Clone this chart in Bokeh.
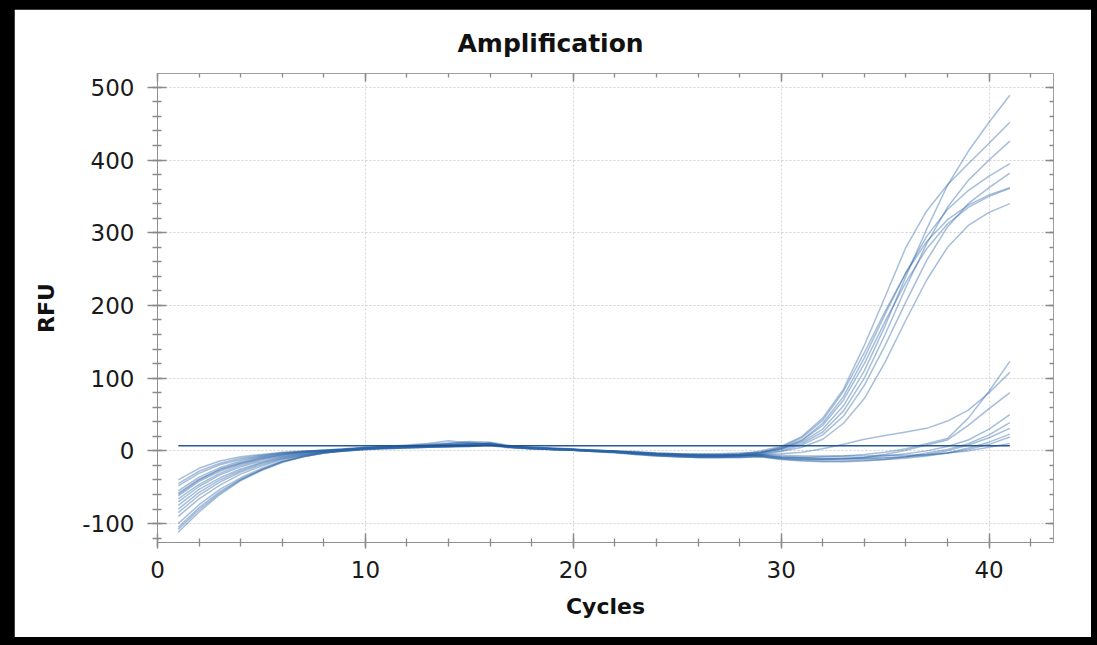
from bokeh.plotting import figure
from bokeh.models import LinearAxis, FixedTicker, GlobalInlineStyleSheet, PrintfTickFormatter
from bokeh.embed import file_html
from bokeh.resources import INLINE

cycles = list(range(1, 42))

h1 = [-66,-46,-31,-20,-12,-7,-3,0,2,5, 5,6,7,8,9,10,6,4,3,2,1,0,-2,-3,-4,-5,-5,-4, -2,3,12,30,62,110,172,240,305,365,412,452,489]
h2 = [-40,-24,-14,-8,-5,-2,0,1,3,4, 6,7,9,11,12,9,6,5,4,2,1,-1,-2,-4,-5,-6,-6,-5, 0,6,20,45,85,145,212,280,330,366,395,423,452]
h3 = [-90,-66,-47,-32,-21,-12,-6,-2,0,3, 4,5,6,6,7,8,5,4,3,2,0,-1,-3,-5,-6,-7,-7,-6, -3,2,10,26,55,100,160,225,285,335,372,400,426]
h4 = [-55,-36,-23,-14,-8,-4,-1,1,2,4, 5,6,8,10,13,12,7,5,4,3,1,0,-3,-4,-5,-6,-7,-6, -2,4,15,38,75,128,188,245,295,332,358,378,395]
h5 = [-105,-78,-56,-39,-26,-15,-8,-3,0,2, 3,4,5,5,6,7,4,3,2,1,0,-2,-4,-6,-7,-8,-8,-7, -4,0,8,22,48,90,145,205,262,308,340,362,382]
h6 = [-62,-42,-28,-18,-11,-6,-2,0,2,4, 6,7,8,9,10,10,6,5,3,2,1,0,-1,-3,-4,-4,-4,-3, -2,5,18,42,82,135,192,245,288,318,338,352,362]
h7 = [-75,-53,-37,-25,-16,-9,-4,-1,1,3, 4,4,5,6,6,9,5,3,2,1,-1,-2,-5,-7,-8,-9,-9,-8, -3,3,14,35,70,120,178,232,278,312,335,350,361]
h8 = [-112,-84,-60,-41,-27,-16,-8,-3,1,3, 4,5,6,7,8,9,5,4,2,1,0,-1,-3,-4,-5,-6,-6,-6, -5,-1,5,16,38,72,122,180,235,280,310,328,340]
l1 = [-48,-31,-19,-12,-7,-3,-1,1,3,5, 6,8,10,14,11,9,6,4,3,2,0,-1,-3,-4,-5,-6,-6,-6, -6,-8,-9,-8,-7,-5,-2,3,10,17,45,82,123]
l2 = [-45,-28,-17,-10,-6,-3,-1,1,2,4, 5,6,7,8,9,11,6,4,3,2,1,-1,-2,-4,-5,-6,-6,-5, -5,-4,-2,3,9,16,21,26,31,41,56,80,108]
l3 = [-100,-74,-53,-37,-24,-14,-7,-3,0,2, 3,4,5,6,7,8,5,3,2,1,-1,-2,-4,-6,-7,-8,-8,-8, -7,-10,-12,-12,-11,-9,-5,1,8,15,35,58,80]
l4 = [-58,-39,-25,-16,-9,-5,-2,0,2,4, 5,6,7,8,8,10,6,4,3,2,0,-1,-3,-5,-6,-7,-7,-6, -6,-9,-10,-11,-10,-9,-7,-4,0,6,15,30,50]
l5 = [-80,-57,-40,-27,-17,-10,-5,-2,1,3, 4,5,6,7,7,8,5,3,2,1,-1,-3,-5,-7,-8,-9,-9,-9, -8,-12,-14,-15,-15,-14,-12,-8,-3,2,10,22,39]
l6 = [-70,-49,-33,-22,-14,-8,-4,-1,1,4, 5,6,7,8,9,9,6,4,3,2,0,-1,-3,-5,-6,-7,-7,-7, -7,-10,-11,-12,-12,-11,-10,-8,-5,0,8,18,31]
l7 = [-108,-81,-58,-40,-26,-15,-8,-3,1,3, 4,5,5,6,7,8,5,3,2,1,-1,-2,-4,-6,-8,-9,-9,-9, -8,-11,-13,-14,-14,-13,-12,-10,-7,-3,4,12,23]
l8 = [-85,-61,-43,-29,-19,-11,-6,-2,0,2, 4,5,6,7,8,9,5,4,2,1,0,-2,-4,-5,-6,-7,-7,-7, -6,-8,-9,-10,-10,-10,-9,-8,-6,-3,2,9,19]
l9 = [-60,-40,-26,-17,-10,-5,-2,0,2,4, 5,6,7,9,10,10,6,4,3,2,1,0,-2,-4,-5,-5,-5,-5, -5,-6,-7,-7,-7,-7,-6,-6,-5,-3,0,5,10]

curves = [h1, h2, h3, h4, h5, h6, h7, h8, l1, l2, l3, l4, l5, l6, l7, l8, l9]

threshold_x = [1, 41]
threshold_y = [7, 7]

x_ticks = [0, 10, 20, 30, 40]
y_ticks = [-100, 0, 100, 200, 300, 400, 500]

FONT = "DejaVu Sans"

p = figure(width=1077, height=628, x_range=(0, 43.1), y_range=(-126, 519),
           output_backend="svg", toolbar_location=None,
           min_border_left=143, min_border_right=38, min_border_top=64, min_border_bottom=95,
           background_fill_color="white", border_fill_color="white")

p.stylesheets = [GlobalInlineStyleSheet(css="body{background:#000 !important;margin:9px 6px 8px 14px !important;}")]

p.title.text = "Amplification"
p.title.align = "left"
p.title.offset = 300
p.title.text_font = FONT
p.title.text_font_size = "25px"
p.title.text_font_style = "bold"
p.title.text_color = "#111111"
p.title.standoff = 31

p.outline_line_color = "#a0a0a0"
p.outline_line_width = 1

for y in curves:
    p.line(cycles[:len(y)], y, line_color="#2a64a8", line_alpha=0.42, line_width=1.5)

p.line(threshold_x, threshold_y, line_color="#1b4f8e", line_alpha=0.95, line_width=1.4)

for g in (p.xgrid, p.ygrid):
    g.grid_line_color = "#d2d2d2"
    g.grid_line_dash = "2 2"
    g.grid_line_width = 1
p.xgrid.ticker = FixedTicker(ticks=x_ticks)
p.ygrid.ticker = FixedTicker(ticks=y_ticks)

xa = p.xaxis[0]
ya = p.yaxis[0]
xa.ticker = FixedTicker(ticks=x_ticks, minor_ticks=list(range(0, 44, 2)))
ya.ticker = FixedTicker(ticks=y_ticks, minor_ticks=list(range(-120, 520, 20)))
xa.formatter = PrintfTickFormatter(format="%d")
ya.formatter = PrintfTickFormatter(format="%d")

for ax in (xa, ya):
    ax.axis_line_color = "#909090"
    ax.major_tick_line_color = "#8a8a8a"
    ax.minor_tick_line_color = "#8a8a8a"
    ax.major_tick_line_width = 1.5
    ax.minor_tick_line_width = 1.3
    ax.major_label_text_font = FONT
    ax.major_label_text_font_size = "23px"
    ax.major_label_text_color = "#1a1a1a"
    ax.axis_label_text_font = FONT
    ax.axis_label_text_font_size = "22px"
    ax.axis_label_text_font_style = "bold"
    ax.axis_label_text_color = "#111111"

xa.axis_label = "Cycles"
xa.major_tick_in = 9
xa.major_tick_out = 6
xa.minor_tick_in = 4
xa.minor_tick_out = 4
xa.major_label_standoff = 12
xa.axis_label_standoff = 13

ya.axis_label = "RFU"
ya.major_tick_in = 9
ya.major_tick_out = 10
ya.minor_tick_in = 4
ya.minor_tick_out = 5
ya.major_label_standoff = 13
ya.axis_label_standoff = 20

top = LinearAxis(ticker=FixedTicker(ticks=x_ticks, minor_ticks=list(range(0, 44, 2))))
right = LinearAxis(ticker=FixedTicker(ticks=y_ticks, minor_ticks=list(range(-120, 520, 20))))
for ax in (top, right):
    ax.axis_line_color = None
    ax.major_tick_line_color = "#8a8a8a"
    ax.minor_tick_line_color = "#8a8a8a"
    ax.major_tick_line_width = 1.5
    ax.minor_tick_line_width = 1.3
    ax.major_tick_in = 8
    ax.major_tick_out = 0
    ax.minor_tick_in = 4
    ax.minor_tick_out = 0
    ax.major_label_text_font_size = "0px"
    ax.major_label_text_color = None
p.add_layout(top, "above")
p.add_layout(right, "right")

open("out.html", "w").write(file_html(p, INLINE))
